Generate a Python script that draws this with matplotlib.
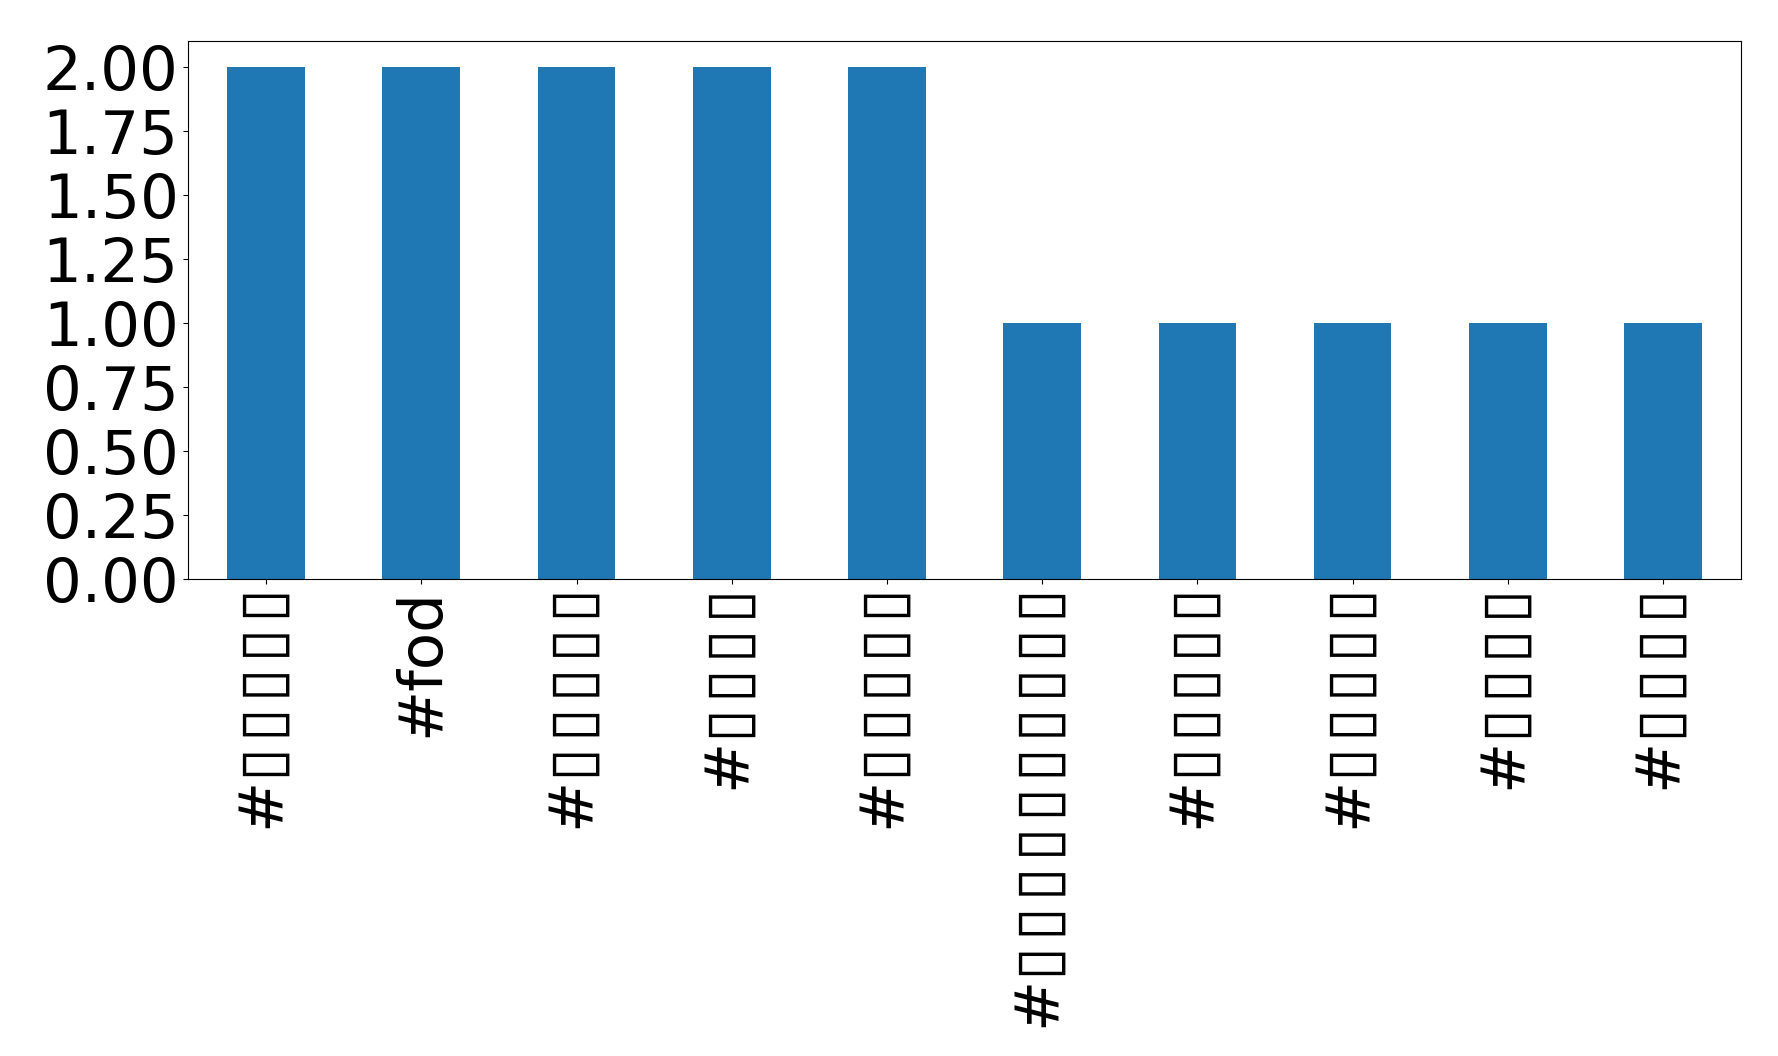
import matplotlib
matplotlib.use("Agg")
import matplotlib.pyplot as plt

# hashtag counts; the non-latin tags show up only as empty boxes in the
# reference, so they are kept as box characters here
plt.rcParams['font.family'] = ['DejaVu Sans']


def boxes(n):
    return '#' + '\u200a'.join(['\u25af'] * n)


tags = [boxes(5), '#fod', boxes(5), boxes(4), boxes(5),
        boxes(10), boxes(5), boxes(5), boxes(4), boxes(4)]
counts = [2, 2, 2, 2, 2, 1, 1, 1, 1, 1]

fig = plt.figure(figsize=(17.78, 10.56), dpi=100)
ax = fig.add_axes([0.106, 0.452, 0.873, 0.509])

x = range(len(tags))
ax.bar(x, counts, width=0.5, color='#1f77b4')
ax.set_xlim(-0.5, len(tags) - 0.5)
ax.set_ylim(0, 2.1)
ax.set_yticks([0, 0.25, 0.5, 0.75, 1.0, 1.25, 1.5, 1.75, 2.0])
ax.set_yticklabels(['%.2f' % v for v in ax.get_yticks()])
ax.set_xticks(list(x))
ax.set_xticklabels(tags, rotation=90)
ax.tick_params(axis='both', labelsize=44)

fig.savefig('out.png', dpi=100)
